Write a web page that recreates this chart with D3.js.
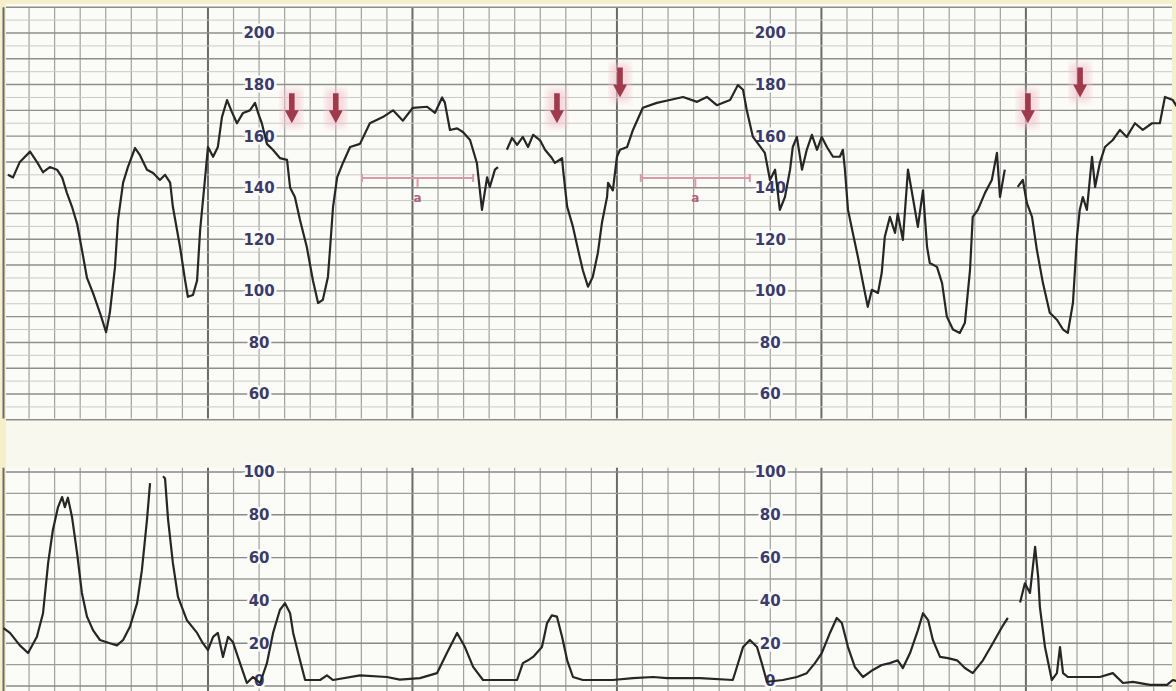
<!DOCTYPE html>
<html>
<head>
<meta charset="utf-8">
<script src="https://cdn.jsdelivr.net/npm/d3@7"></script>
<style>
  html, body { margin: 0; padding: 0; background: #f6efcc; }
  svg { display: block; }
</style>
</head>
<body>
<svg id="chart"></svg>
<script>
// fetal heart rate trace (seconds, bpm); null = pen gap
const fhrTime = [1.3, 2.8, 4.8, 7.8, 9.8, 11.6, 13.6, 15.7, 17.2, 18.6, 20.1, 21.6, 23, 24.5, 26.3, 28.3, 30.1, 31.2, 32.7, 33.6,
  35.1, 36.5, 38.6, 40, 42.1, 43.9, 45.9, 47.4, 48.9, 49.7, 51.8, 53.3, 54.1, 55.6, 56.8, 57.7, 59.1, 60, 61.5, 62.9,
  64.1, 65.6, 67, 68.5, 70.3, 72.3, 73.8, 74.7, 75.8, 77.3, 79.1, 81.1, 83.2, 84.1, 85.5, 87, 89, 90.8, 92.3, 93.7,
  95.2, 95.8, 96.7, 97.9, 99.6, 101.7, 104.6, 107.5, 111.3, 114.3, 117.2, 120.1, 124.3, 126.6, 128.7, 129.5, 131, 133.1, 134.8, 136.9,
  138.9, 140.4, 141.9, 142.7, 144.2, 145.1, 146.4, 147.7, 149.2, 150.7, 152.4, 153.9, 155.4, 157.4, 158.9, 160.9, 161.8, 163.9, 164.2, 165.4,
  167.1, 169.1, 170, 171.5, 172.9, 174.4, 175.6, 177.1, 177.4, 178.8, 180, 180.9, 183, 184.7, 187.6, 191.7, 195.5, 199.4, 203.5, 206.4,
  209.3, 213.2, 215.5, 217, 218.1, 219.9, 222, 223.4, 224.9, 226.4, 227.8, 229.3, 230.8, 231.6, 232.8, 234.3, 235.7, 237.2, 238.7, 240.1,
  241.6, 243.4, 245.4, 246.3, 246.9, 247.8, 249.2, 250.7, 252.2, 253.6, 254.8, 256.6, 257.7, 258.6, 260.1, 261.6, 262.4, 263.9, 265.4, 266.8,
  268.3, 269.8, 271, 271.8, 273.9, 275.4, 276.8, 278.6, 280.6, 282.1, 283.6, 284.4, 285.9, 288, 290, 291.5, 292.4, 293.8, 295.7, 297.6,
  299.1, 300.3, 301.8, 303.2, 305, 307, 309.1, 310.9, 312.3, 313.8, 315, 315.8, 316.7, 317.9, 319.4, 320.3, 321.7, 323.2, 325.5, 327.6,
  329.6, 332, 334.3, 337, 339.3, 340.8, 343.1, 345];
const fhrBpm = [145, 144, 150, 154, 150, 146, 148, 147, 144, 138, 132.6, 126, 116, 105, 99, 91.5, 84, 91.5, 109, 127.5,
  142, 148, 155.4, 152.7, 147, 145.7, 143, 145, 142, 132.6, 117, 104, 97.7, 98.4, 104, 123.6, 143, 155.8, 152, 155.8,
  167.4, 174, 169.4, 165, 169, 170, 172.9, 169, 165, 157, 154.6, 151.5, 150.8, 140, 136.4, 127.5, 117, 104, 95.3, 96.5,
  105.4, 116, 132.6, 144, 149.6, 155.8, 157, 165, 167.4, 170, 166, 171, 171.4, 169, 175, 173, 162.4, 163, 161.6, 158.5,
  149.6, 131.4, 144, 140.3, 147, 148, null, 154.7, 159.3, 156.6, 159.7, 155.8, 160.5, 158.5, 154.7, 151.5, 149.6, 151.5, 147, 132.6,
  124.8, 113, 108, 101.6, 105.4, 114.7, 126.4, 136.4, 141.9, 139, 152, 154.7, 155.8, 162.4, 171, 172.9, 174, 175.2, 173.3, 175.2,
  172, 174, 179.8, 178, 170, 159.7, 156, 153.5, 143, 147, 131.4, 136.4, 147, 155.8, 159.7, 147, 154.7, 160.5, 154.7, 159.7,
  155.8, 152, 152, 154.7, 147, 131.4, 122.5, 113.2, 103, 93.8, 100.4, 99.2, 107, 121, 128.7, 122.5, 130, 119.8, 147, 136.4,
  124.8, 139, 117, 110.8, 109.3, 103, 90, 85, 83.7, 87.6, 108, 128.7, 131.4, 138, 143, 153.5, 136.4, 147, null, 140.3,
  143, 134, 128.7, 116, 103, 91.5, 88.8, 85, 83.7, 95.3, 121, 131.4, 136.4, 131.4, 152, 140.3, 149.6, 155.8, 158.5, 162.4,
  159.7, 165, 162.4, 165, 165, 175.2, 174, 170];

// uterine contraction trace (seconds, pressure units); null = pen gap
const ucTime = [0, 1.9, 4.8, 7.2, 9.8, 11.6, 13.1, 14.5, 16, 17.2, 18, 18.9, 20.1, 21.6, 23, 24.5, 26.3, 28.3, 31.2, 33.3,
  35.1, 37.1, 39.2, 40.6, 42.1, 43, 45, 46.8, 47.4, 48.3, 49.7, 51.2, 53.8, 56.8, 58.5, 60, 61.5, 62.9, 64.4, 65.9,
  67.3, 69.4, 71.4, 73.2, 75.3, 77.3, 79.1, 81.1, 82.6, 84.1, 85, 87, 88.5, 92.9, 94.9, 96.7, 104.6, 112.5, 116.3, 122.2,
  127.2, 130.1, 133.1, 135.4, 137.8, 140.7, 150.7, 152.4, 153.9, 155.4, 158, 159.5, 160.9, 162.4, 163.9, 165.4, 167.1, 170, 178.8, 184.7,
  190.6, 194.7, 204.4, 214, 215.2, 217, 219, 221.1, 222.5, 224, 228.7, 232.8, 235.7, 238.1, 240.1, 242.5, 244.5, 246, 247.8, 249.8,
  252.2, 255.1, 257.7, 260.1, 262.4, 263.9, 266, 268.3, 269.8, 271.3, 272.7, 274.8, 277.1, 279.8, 282.1, 284.4, 287.4, 290.3, 293, 294.7,
  296.5, 298.3, 299.7, 301.2, 302.7, 303.6, 304.1, 305.6, 307.6, 309.1, 310, 310.9, 312.3, 316.1, 321.7, 325.5, 328.5, 331.4, 336.4, 341.4,
  343.1, 345];
const ucValue = [27, 24.8, 19, 15.4, 23, 34, 57.5, 73, 83.6, 88.3, 83.6, 88, 79, 62, 43.5, 32.4, 26, 21.5, 20, 19,
  21.5, 27.7, 38.7, 54, 77.6, 94.8, null, 98, 97, 77.6, 57.5, 41.6, 30.8, 24.8, 20, 16.8, 23, 24.8, 13.6, 23,
  20.6, 10.7, 1.4, 4.2, 1.4, 10.7, 24.8, 35.5, 38.7, 34, 24.8, 12, 2.8, 2.8, 5, 2.8, 5, 4.2, 3, 3.7,
  6, 15.4, 24.8, 18.2, 8.9, 2.8, 2.8, 10.7, 12, 13.6, 18.2, 29.4, 33, 32.4, 23, 12, 4.2, 2.8, 2.8, 3.7,
  4.2, 3.7, 3.7, 2.8, 8.9, 18.2, 21.5, 18.2, 10.7, 2, 2.8, 4.2, 6, 10.7, 15.4, 24.8, 31.8, 29.4, 18.2, 8.9,
  4.2, 7.5, 9.8, 10.7, 12, 8.4, 15.4, 26, 34, 30.8, 21.5, 13.6, 13, 12, 8.4, 6, 12, 20, 27.6, 31.8,
  null, 39, 48, 43.5, 65, 51, 37, 18.2, 2.8, 6, 18.2, 6, 4.2, 4.2, 4.2, 6, 1.4, 1.9, 0.5, 0.5,
  2.8, 2];

// scale labels printed on the paper
const fhrTicks = [200, 180, 160, 140, 120, 100, 80, 60];
const ucTicks = [100, 80, 60, 40, 20, 0];
const labelTimes = [75, 225];

// contraction markers and bracket annotations
const arrowTime = [84.6, 97.5, 162.4, 180.9, 300.6, 315.9];
const arrowBpm = [165, 165, 165, 175, 165, 175];
const bracketStart = [105.2, 187];
const bracketEnd = [137.8, 219];
const bracketBpm = 143.8;

const W = 1176, H = 691;
const svg = d3.select('#chart').attr('width', W).attr('height', H);

const x = d3.scaleLinear().domain([0, 345]).range([3.5, 3.5 + 345 * 3.408]);
const yF = d3.scaleLinear().domain([60, 200]).range([394, 33]);
const yU = d3.scaleLinear().domain([0, 100]).range([686, 472]);

const topPanel = { y0: yF(210), y1: yF(50.5) };
const botPanel = { y0: yU(102), y1: H };

// paper
svg.append('rect').attr('x', 6).attr('y', 4).attr('width', W - 10).attr('height', H - 4).attr('fill', '#fbfbf8');
svg.append('rect').attr('x', 6).attr('y', topPanel.y1).attr('width', W - 10)
  .attr('height', botPanel.y0 - topPanel.y1).attr('fill', '#f8f8ef');

const grid = svg.append('g');
const vTimes = d3.range(0, 346, 7.5);

[topPanel, botPanel].forEach(p => {
  grid.append('g').selectAll('line')
    .data(vTimes)
    .join('line')
    .attr('x1', d => x(d)).attr('x2', d => x(d))
    .attr('y1', p.y0).attr('y2', p.y1)
    .attr('stroke', (d, i) => i % 8 === 0 ? '#6a6a6a' : '#a0a0a0')
    .attr('stroke-width', (d, i) => i % 8 === 0 ? 2 : 1.2);
});

// heart rate grid: every 5 bpm, heavier every 10
grid.append('g').selectAll('line')
  .data(d3.range(50, 211, 5))
  .join('line')
  .attr('x1', 6).attr('x2', W - 4)
  .attr('y1', d => yF(d)).attr('y2', d => yF(d))
  .attr('stroke', d => d % 10 === 0 ? '#8e8e8e' : '#c9c9c9')
  .attr('stroke-width', d => d % 10 === 0 ? 1.4 : 1);

// contraction grid: every 10 units
grid.append('g').selectAll('line')
  .data(d3.range(0, 101, 10))
  .join('line')
  .attr('x1', 6).attr('x2', W - 4)
  .attr('y1', d => yU(d)).attr('y2', d => yU(d))
  .attr('stroke', d => d % 20 === 0 ? '#8a8a8a' : '#9c9c9c')
  .attr('stroke-width', 1.4);

// scale labels
const labelColor = '#3b3b6a';
labelTimes.forEach(t => {
  const g = svg.append('g').attr('font-family', 'DejaVu Sans, sans-serif')
    .attr('font-weight', 'bold').attr('font-size', 15).attr('fill', labelColor)
    .attr('text-anchor', 'middle');
  g.selectAll('text.f')
    .data(fhrTicks)
    .join('text')
    .attr('class', 'f')
    .attr('x', x(t)).attr('y', d => yF(d)).attr('dy', '0.36em')
    .attr('stroke', '#fbfbf8').attr('stroke-width', 5).attr('paint-order', 'stroke')
    .text(d => d);
  g.selectAll('text.u')
    .data(ucTicks)
    .join('text')
    .attr('class', 'u')
    .attr('x', x(t)).attr('y', d => Math.min(yU(d), H - 10)).attr('dy', '0.36em')
    .attr('stroke', '#fbfbf8').attr('stroke-width', 5).attr('paint-order', 'stroke')
    .text(d => d);
});

// annotation brackets
const br = svg.append('g').attr('stroke', '#d99aa6').attr('stroke-width', 2).attr('fill', 'none');
bracketStart.forEach((s, i) => {
  const e = bracketEnd[i], m = (s + e) / 2, yb = yF(bracketBpm);
  br.append('line').attr('x1', x(s)).attr('x2', x(e)).attr('y1', yb).attr('y2', yb);
  br.append('line').attr('x1', x(s)).attr('x2', x(s)).attr('y1', yb - 4).attr('y2', yb + 4);
  br.append('line').attr('x1', x(e)).attr('x2', x(e)).attr('y1', yb - 4).attr('y2', yb + 4);
  br.append('line').attr('x1', x(m)).attr('x2', x(m)).attr('y1', yb).attr('y2', yb + 9);
  svg.append('text').attr('x', x(m)).attr('y', yb + 24)
    .attr('text-anchor', 'middle').attr('font-family', 'DejaVu Sans, sans-serif')
    .attr('font-size', 12).attr('font-weight', 'bold').attr('fill', '#b0627a').text('a');
});

// traces
const trace = (xs, ys, yScale) => d3.line()
  .defined((d, i) => ys[i] !== null)
  .x((d, i) => x(xs[i]))
  .y((d, i) => yScale(ys[i]))(xs);

svg.append('path')
  .attr('d', trace(fhrTime, fhrBpm, yF))
  .attr('fill', 'none').attr('stroke', '#262626').attr('stroke-width', 2.2)
  .attr('stroke-linejoin', 'round');

svg.append('path')
  .attr('d', trace(ucTime, ucValue, yU))
  .attr('fill', 'none').attr('stroke', '#262626').attr('stroke-width', 2.2)
  .attr('stroke-linejoin', 'round');

// red arrows
const defs = svg.append('defs');
defs.append('filter').attr('id', 'soft').append('feGaussianBlur').attr('stdDeviation', 3);
const ar = svg.append('g');
arrowTime.forEach((t, i) => {
  const cx = x(t), tip = yF(arrowBpm[i]);
  ar.append('rect').attr('x', cx - 10).attr('y', tip - 34).attr('width', 20).attr('height', 38)
    .attr('fill', '#f3c2cb').attr('opacity', 0.6).attr('filter', 'url(#soft)');
  ar.append('path')
    .attr('d', `M${cx - 2.8},${tip - 30} L${cx + 2.8},${tip - 30} L${cx + 2.8},${tip - 13} L${cx + 7},${tip - 13} L${cx},${tip} L${cx - 7},${tip - 13} L${cx - 2.8},${tip - 13} Z`)
    .attr('fill', '#9f3a4c');
});
</script>
</body>
</html>
